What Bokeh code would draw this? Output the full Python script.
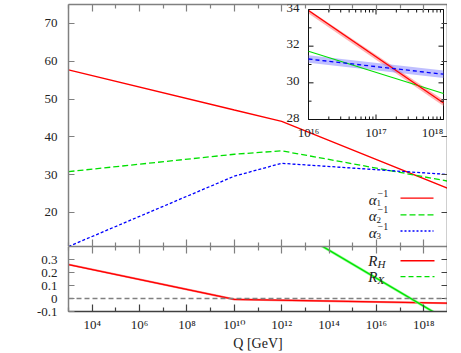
import numpy as np
from bokeh.plotting import figure
from bokeh.layouts import column
from bokeh.models import (Range1d, LogScale, LinearScale, FixedTicker, CustomJSTickFormatter,
                          LinearAxis, LogAxis, Span, LabelSet, ColumnDataSource)
from bokeh.core.properties import value
from bokeh.embed import file_html
from bokeh.resources import INLINE

# ---------------- data ----------------
log_q = [3, 10, 12, 19]
alpha1_inv = [57.7, 47.1, 44.1, 26.4]
alpha2_inv = [30.8, 35.4, 36.3, 28.3]
alpha3_inv = [11.0, 29.6, 33.0, 30.05]

inset_log_q = [16, 18]
inset_alpha1 = [33.95, 28.9]
inset_alpha2 = [31.72, 29.42]
inset_alpha3 = [31.3, 30.47]
inset_alpha1_err = 0.17
inset_alpha3_err = 0.2

rh_log_q = [3, 10, 19]
r_h = [0.261, -0.007, -0.036]
r_h_err = 0.008
rx_log_q = [13.5, 18.5]
r_x = [0.425, -0.113]
r_x_err = 0.012
zero_level = 0.0

x_tick_exps = [4, 6, 8, 10, 12, 14, 16, 18]
x_minor_exps = [3, 5, 7, 9, 11, 13, 15, 17, 19]
top_y_ticks = [20, 30, 40, 50, 60, 70]
bottom_y_ticks = [-0.1, 0.0, 0.1, 0.2, 0.3]
bottom_y_labels = ["-0.1", "0", "0.1", "0.2", "0.3"]
inset_x_tick_exps = [16, 17, 18]
inset_y_ticks = [28, 30, 32, 34]
inset_y_minor = [29, 31, 33]
x_title = "Q [GeV]"

SUP = {"0": "\u2070", "1": "\u00b9", "2": "\u00b2", "3": "\u00b3", "4": "\u2074",
       "5": "\u2075", "6": "\u2076", "7": "\u2077", "8": "\u2078", "9": "\u2079", "-": "\u207b"}


def pow10_label(e):
    return "10" + "".join(SUP[c] for c in str(e))


x_tick_labels = [pow10_label(e) for e in x_tick_exps]
inset_x_labels = [pow10_label(e) for e in inset_x_tick_exps]

FONT = "'Liberation Serif', 'DejaVu Serif', serif"
RED = "#ff0000"
GREEN = "#00e000"
BLUE = "#0000ff"
GRAY = "#808080"
DARK = "#404040"
TXT = "#222222"

W = 439
LEFT = 60
RIGHT = 0
X0, X1 = 3, 19

# pixel helpers for legend/inset layout (frame: x 68..447 in the page)
FX0, FX1 = 68.0, 447.0


def px_to_logx(px):
    return X0 + (px - FX0) * (X1 - X0) / (FX1 - FX0)


# ---------------- top figure ----------------
T_Y0, T_Y1 = 11, 75
TOP_F0, TOP_F1 = 4.0, 246.0


def top_y(py):
    return T_Y1 - (py - TOP_F0) * (T_Y1 - T_Y0) / (TOP_F1 - TOP_F0)


top = figure(width=W, height=246, x_axis_type="log", x_axis_location=None, y_axis_location=None,
             x_range=Range1d(10.0 ** X0, 10.0 ** X1), y_range=Range1d(T_Y0, T_Y1),
             output_backend="svg", toolbar_location=None,
             min_border_left=LEFT, min_border_right=RIGHT, min_border_top=4, min_border_bottom=0)
top.grid.visible = False
top.outline_line_color = None

xmaj = [10.0 ** e for e in x_tick_exps]
xmin = [10.0 ** e for e in x_minor_exps]


def style_x(ax, color):
    ax.ticker = FixedTicker(ticks=xmaj, minor_ticks=xmin)
    ax.major_tick_in = 7
    ax.major_tick_out = 0
    ax.minor_tick_in = 4
    ax.minor_tick_out = 0
    ax.axis_line_color = color
    ax.major_tick_line_color = color
    ax.minor_tick_line_color = color
    ax.axis_line_width = 1.5
    ax.major_tick_line_width = 1.2
    ax.minor_tick_line_width = 1.2


def hide_labels(ax):
    ax.formatter = CustomJSTickFormatter(code="return '';")
    ax.major_label_text_font_size = "0px"
    ax.major_label_standoff = 0


for loc in ("above", "below"):
    ax = LogAxis()
    style_x(ax, GRAY)
    hide_labels(ax)
    top.add_layout(ax, loc)


def style_y(ax, color, ticks):
    ax.ticker = FixedTicker(ticks=ticks, minor_ticks=[])
    ax.major_tick_in = 6
    ax.major_tick_out = 0
    ax.minor_tick_in = 0
    ax.minor_tick_out = 0
    ax.axis_line_color = color
    ax.major_tick_line_color = color
    ax.axis_line_width = 1.5
    ax.major_tick_line_width = 1.2
    ax.major_label_text_font = FONT
    ax.major_label_text_font_size = "13px"
    ax.major_label_text_color = TXT


ly = LinearAxis()
style_y(ly, GRAY, top_y_ticks)
ly.major_label_standoff = 11
top.add_layout(ly, "left")
ry = LinearAxis()
style_y(ry, DARK, top_y_ticks)
hide_labels(ry)
top.add_layout(ry, "right")

q = [10.0 ** e for e in log_q]
top.line(q, alpha1_inv, line_color=RED, line_width=1.3)
top.line(q, alpha2_inv, line_color=GREEN, line_width=1.3, line_dash="6 3")
top.line(q, alpha3_inv, line_color=BLUE, line_width=1.3, line_dash="3 2")

# legend (label on the left, sample on the right)
leg_labels = [("1", RED, "solid"), ("2", GREEN, "6 3"), ("3", BLUE, "2 2")]
leg_py = [197.7, 214.3, 230.5]
for (sub, colr, dash), py in zip(leg_labels, leg_py):
    yv = top_y(py)
    xa = 10.0 ** px_to_logx(376)
    top.text(x=[xa], y=[yv], text=["\u03b1"], text_font=value(FONT), text_font_style="italic",
             text_font_size="15px", text_align="right", text_baseline="middle", y_offset=1.5,
             text_color=TXT)
    top.text(x=[xa], y=[yv], text=["\u22121"], text_font=value(FONT), text_font_size="10px",
             text_align="left", text_baseline="middle", x_offset=1, y_offset=-5, text_color=TXT)
    top.text(x=[xa], y=[yv], text=[sub], text_font=value(FONT), text_font_size="9px",
             text_align="left", text_baseline="middle", x_offset=0, y_offset=5, text_color=TXT)
    top.line([10.0 ** px_to_logx(400), 10.0 ** px_to_logx(433)], [yv, yv], line_color=colr,
             line_width=1.3, line_dash=dash)

# ---------------- inset (drawn with extra ranges in the top figure) ----------------
IN_X0, IN_X1 = 308.0, 443.0       # pixel frame of the inset
IN_Y0, IN_Y1 = 9.0, 119.0
in_lx0, in_lx1 = 16.0, 18.0
in_y0, in_y1 = 28.0, 34.0
ppd = (IN_X1 - IN_X0) / (in_lx1 - in_lx0)
ext_lx0 = in_lx0 - (IN_X0 - FX0) / ppd
ext_lx1 = in_lx1 + (FX1 - IN_X1) / ppd
ppu = (IN_Y1 - IN_Y0) / (in_y1 - in_y0)
ext_y1 = in_y1 + (IN_Y0 - TOP_F0) / ppu
ext_y0 = in_y0 - (TOP_F1 - IN_Y1) / ppu
top.extra_x_ranges = {"ix": Range1d(10.0 ** ext_lx0, 10.0 ** ext_lx1)}
top.extra_x_scales = {"ix": LogScale()}
top.extra_y_ranges = {"iy": Range1d(ext_y0, ext_y1)}
top.extra_y_scales = {"iy": LinearScale()}
IK = dict(x_range_name="ix", y_range_name="iy")

top.quad(left=[10.0 ** in_lx0], right=[10.0 ** in_lx1], bottom=[in_y0], top=[in_y1],
         fill_color="white", line_color="#111111", line_width=1, **IK)

iq = [10.0 ** e for e in inset_log_q]
a1 = np.array(inset_alpha1)
a3 = np.array(inset_alpha3)
top.varea(x=iq, y1=list(np.minimum(a1 + inset_alpha1_err, in_y1)), y2=list(a1 - inset_alpha1_err),
          fill_color="#ff8080", fill_alpha=0.6, **IK)
top.varea(x=iq, y1=list(a3 + inset_alpha3_err), y2=list(a3 - inset_alpha3_err),
          fill_color="#8080ff", fill_alpha=0.5, **IK)
top.line(iq, inset_alpha2, line_color=GREEN, line_width=1.1, **IK)
top.line(iq, inset_alpha1, line_color=RED, line_width=1.3, **IK)
top.line(iq, inset_alpha3, line_color=BLUE, line_width=1.3, line_dash="4 3", **IK)

# inset ticks
maj_len = 5.0 / ppu
min_len = 3.0 / ppu
ix_major = [10.0 ** e for e in inset_x_tick_exps]
ix_minor = [m * 10.0 ** e for e in inset_x_tick_exps[:-1] for m in range(2, 10)]
xt = ix_major + ix_minor
xl = [maj_len] * len(ix_major) + [min_len] * len(ix_minor)
top.segment(x0=xt, x1=xt, y0=[in_y0] * len(xt), y1=[in_y0 + d for d in xl], line_color="#111111", **IK)
top.segment(x0=xt, x1=xt, y0=[in_y1] * len(xt), y1=[in_y1 - d for d in xl], line_color="#111111", **IK)
fmaj = 10.0 ** (5.0 / ppd)
fmin = 10.0 ** (3.0 / ppd)
yt = inset_y_ticks + inset_y_minor
yf = [fmaj] * len(inset_y_ticks) + [fmin] * len(inset_y_minor)
top.segment(x0=[10.0 ** in_lx0] * len(yt), x1=[10.0 ** in_lx0 * f for f in yf], y0=yt, y1=yt,
            line_color="#111111", **IK)
top.segment(x0=[10.0 ** in_lx1] * len(yt), x1=[10.0 ** in_lx1 / f for f in yf], y0=yt, y1=yt,
            line_color="#111111", **IK)

iy_src = ColumnDataSource(dict(x=[10.0 ** in_lx0] * len(inset_y_ticks), y=inset_y_ticks,
                               t=[str(v) for v in inset_y_ticks]))
top.add_layout(LabelSet(x="x", y="y", text="t", source=iy_src, text_font=FONT, text_font_size="13px",
                        text_align="right", text_baseline="middle", x_offset=-9, y_offset=2,
                        text_color=TXT, **IK))
# last inset label is nudged left so that it stays inside the frame
ix_src = ColumnDataSource(dict(x=ix_major, y=[in_y0] * len(ix_major), t=inset_x_labels,
                               dx=[0, 0, -11]))
top.text(x="x", y="y", text="t", source=ix_src, text_font=value(FONT), text_font_size="13px",
         text_align="center", text_baseline="top", x_offset="dx", y_offset=5,
         text_color=TXT, **IK)

# ---------------- bottom figure ----------------
B_Y0, B_Y1 = -0.1, 0.4
BOT_H = 67.0


def bot_y(py_rel):
    return B_Y1 - py_rel * (B_Y1 - B_Y0) / BOT_H


bot = figure(width=W, height=107, x_axis_type="log", x_axis_location=None, y_axis_location=None,
             x_range=top.x_range, y_range=Range1d(B_Y0, B_Y1),
             output_backend="svg", toolbar_location=None,
             min_border_left=LEFT, min_border_right=RIGHT, min_border_top=0, min_border_bottom=40)
bot.grid.visible = False
bot.outline_line_color = None

ax = LogAxis()
style_x(ax, GRAY)
hide_labels(ax)
bot.add_layout(ax, "above")

bx = LogAxis()
style_x(bx, DARK)
bx.formatter = CustomJSTickFormatter(args=dict(exps=x_tick_exps, labels=x_tick_labels), code="""
const e = Math.round(Math.log10(tick));
const i = exps.indexOf(e);
return i >= 0 ? labels[i] : '';
""")
bx.major_label_text_font = FONT
bx.major_label_text_font_size = "13px"
bx.major_label_text_color = TXT
bx.major_label_standoff = 5
bx.axis_label = x_title
bx.axis_label_text_font = FONT
bx.axis_label_text_font_style = "normal"
bx.axis_label_text_font_size = "14px"
bx.axis_label_text_color = TXT
bx.axis_label_standoff = 1
bot.add_layout(bx, "below")

by = LinearAxis()
style_y(by, GRAY, bottom_y_ticks)
by.formatter = CustomJSTickFormatter(args=dict(vals=bottom_y_ticks, labels=bottom_y_labels), code="""
for (let i = 0; i < vals.length; i++) { if (Math.abs(vals[i] - tick) < 1e-9) return labels[i]; }
return '';
""")
by.major_label_standoff = 11
bot.add_layout(by, "left")
by2 = LinearAxis()
style_y(by2, DARK, bottom_y_ticks)
hide_labels(by2)
bot.add_layout(by2, "right")

bot.add_layout(Span(location=zero_level, dimension="width", line_color=GRAY, line_width=1.5,
                    line_dash="5 3"))

rq = [10.0 ** e for e in rh_log_q]
rh = np.array(r_h)
bot.varea(x=rq, y1=list(rh + r_h_err), y2=list(rh - r_h_err), fill_color="#ff6060", fill_alpha=0.8)
bot.line(rq, r_h, line_color=RED, line_width=1.3)
xq = [10.0 ** e for e in rx_log_q]
rx = np.array(r_x)
bot.varea(x=xq, y1=list(rx + r_x_err), y2=list(rx - r_x_err), fill_color="#80ff80", fill_alpha=0.9)
bot.line(xq, r_x, line_color=GREEN, line_width=1.3)

# bottom legend
bleg = [("H", RED, "solid", 260.7 - 246.0), ("X", GREEN, "5 3", 277.0 - 246.0)]
for sub, colr, dash, pyr in bleg:
    yv = bot_y(pyr)
    xa = 10.0 ** px_to_logx(377)
    bot.text(x=[xa], y=[yv], text=["R"], text_font=value(FONT), text_font_style="italic",
             text_font_size="15px", text_align="right", text_baseline="middle", y_offset=0,
             text_color=TXT)
    bot.text(x=[xa], y=[yv], text=[sub], text_font=value(FONT), text_font_style="italic",
             text_font_size="11px", text_align="left", text_baseline="middle", x_offset=0, y_offset=3,
             text_color=TXT)
    bot.line([10.0 ** px_to_logx(400), 10.0 ** px_to_logx(434)], [yv, yv], line_color=colr,
             line_width=1.3, line_dash=dash)

layout = column(top, bot, margin=(0, 0, 0, 8), spacing=0)
open("out.html", "w").write(file_html(layout, INLINE))
